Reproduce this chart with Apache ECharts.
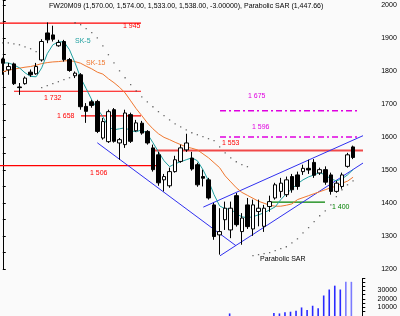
<!DOCTYPE html>
<html><head><meta charset="utf-8">
<script src="https://cdn.jsdelivr.net/npm/echarts/dist/echarts.min.js"></script>
<style>html,body{margin:0;padding:0;background:#fafafa}#c{width:400px;height:316px}</style>
</head><body><div id="c"></div>
<script>
// ---- data ----
const categories = Array.from({length: 65}, (_, i) => 'P' + (i + 1));
const opens  = [1837,1804,1822,1752,1762,1797,1792,1834,1916,1910,1877,1890,1835,1786,1789,1693,1707,1708,1597,1586,1683,1582,1577,1668,1619,1642,1617,1567,1546,1470,1452,1495,1526,1561,1536,1516,1480,1470,1394,1303,1349,1318,1422,1313,1394,1321,1374,1329,1389,1415,1435,1425,1480,1485,1495,1505,1523,1491,1501,1485,1435,1450,1511,1570];
const closes = [1824,1814,1762,1750,1779,1789,1814,1890,1895,1897,1887,1835,1802,1794,1692,1678,1696,1617,1647,1677,1587,1592,1673,1587,1643,1612,1582,1501,1461,1480,1495,1531,1567,1582,1503,1455,1475,1415,1298,1313,1384,1384,1334,1354,1328,1394,1384,1384,1404,1455,1460,1470,1440,1450,1505,1500,1484,1501,1463,1435,1460,1485,1546,1538];
const lows   = [1789,1789,1758,1728,1759,1783,1789,1829,1885,1890,1874,1829,1798,1779,1683,1643,1689,1612,1592,1582,1583,1531,1567,1582,1616,1607,1577,1495,1452,1435,1446,1492,1522,1555,1498,1449,1450,1410,1288,1243,1318,1293,1328,1273,1321,1300,1329,1312,1373,1410,1416,1418,1431,1440,1485,1488,1476,1485,1455,1425,1431,1443,1507,1533];
const highs  = [1841,1825,1826,1764,1784,1805,1825,1897,1948,1938,1895,1895,1840,1799,1794,1703,1713,1713,1658,1683,1688,1597,1683,1674,1652,1649,1621,1577,1555,1488,1507,1543,1577,1610,1555,1522,1501,1476,1400,1384,1404,1404,1430,1369,1415,1410,1410,1394,1422,1461,1476,1480,1488,1495,1516,1531,1533,1507,1511,1492,1467,1492,1552,1574];
const sk5  = [1825,1825,1819,1810,1795,1784,1783,1810,1853,1880,1889,1889,1865,1825,1780,1747,1713,1686,1662,1631,1622,1625,1628,1619,1616,1622,1610,1583,1555,1528,1510,1519,1525,1531,1537,1528,1501,1467,1425,1391,1382,1382,1367,1358,1355,1358,1364,1370,1379,1388,1410,1428,1443,1458,1470,1479,1485,1492,1485,1473,1467,1473,1485,1501];
const sk15 = [1798,1803,1806,1809,1812,1814,1818,1823,1826,1828,1829,1831,1832,1829,1824,1815,1807,1797,1791,1777,1765,1751,1734,1710,1686,1665,1643,1625,1610,1599,1592,1584,1577,1570,1566,1561,1549,1537,1522,1507,1482,1464,1446,1432,1423,1414,1405,1399,1393,1390,1390,1393,1397,1410,1416,1422,1428,1434,1440,1446,1451,1460,1466,1478];
const sar  = [1886,1886,1883,1880,1874,1868,1859,1750,1756,1762,1768,1774,1780,1947,1941,1929,1917,1901,1877,1850,1825,1801,1780,1759,1740,1722,1707,1692,1677,1665,1652,1640,1631,1622,1613,1607,1601,1595,1589,1570,1552,1537,1525,1516,1510,1240,1243,1246,1249,1255,1261,1267,1279,1291,1309,1325,1343,1361,1376,1394,1419,1440,1455,1467];
const volumes = [0,0,0,0,0,0,0,0,0,0,0,0,0,0,0,0,0,0,0,0,0,0,0,0,0,0,0,0,0,0,0,0,0,0,0,0,0,0,0,0,0,3000,0,0,0,0,0,0,0,3500,3000,4500,5000,6000,10000,7000,12000,9000,24000,31000,35500,31000,40000,40000];
const priceTicks = [1200,1300,1400,1500,1600,1700,1800,1900,2000];
const volumeTicks = [10000,20000,30000];
// horizontal levels: value, start index, end index
const redLevels   = [[1946,-0.5,24.86],[1739,2.02,24.86],[1664,14.07,24.86],[1513,-0.5,27.74]];
const redLabels   = ['1 945','1 732','1 658','1 506'];
const level1553   = [1559,27.38,65.15];
const targetLevels = [[1680,39.07,64.25],[1600,39.07,64.25]];
const targetLabels = ['1 675','1 596'];
const greenLevel  = [1402.5,48.4,57.95];
const trendLines  = [[[17.0,1582.6],[41.95,1270]],[[39.07,1239.5],[65.15,1525]],[[36.07,1387.3],[65.15,1606.8]]];
const titleText = 'FW20M09 (1,570.00, 1,574.00, 1,533.00, 1,538.00, -3.00000), Parabolic SAR (1,447.66)';

// ---- chart ----
const FONT = 'Liberation Sans, Arial, sans-serif';
const chart = echarts.init(document.getElementById('c'), null, {renderer: 'canvas'});
const candleData = opens.map((o, i) => [o, closes[i], lows[i], highs[i]]);

function hLine(v, a, b, color, width, type) {
  return {type: 'line', xAxisIndex: 1, yAxisIndex: 0, data: [[a, v], [b, v]], symbol: 'none', silent: true,
    clip: false, lineStyle: {color: color, width: width, type: type || 'solid'}, z: 3};
}

const series = [];
redLevels.forEach(l => series.push(hLine(l[0], l[1], l[2], '#ff0000', 1.2)));
series.push(hLine(level1553[0], level1553[1], level1553[2], '#f04848', 2));
targetLevels.forEach(l => series.push(hLine(l[0], l[1], l[2], '#e000e0', 1.4, [6, 3, 2, 3])));
series.push(hLine(greenLevel[0], greenLevel[1], greenLevel[2], '#008000', 1.2));
trendLines.forEach(t => series.push({type: 'line', xAxisIndex: 1, yAxisIndex: 0, data: t, symbol: 'none', clip: false,
  lineStyle: {color: '#3030f0', width: 1}, z: 4}));
series.push({type: 'line', xAxisIndex: 0, yAxisIndex: 0, data: sk15, symbol: 'none', lineStyle: {color: '#f07830', width: 1}, z: 5});
series.push({type: 'line', xAxisIndex: 0, yAxisIndex: 0, data: sk5, symbol: 'none', lineStyle: {color: '#20a0a0', width: 1}, z: 6});
series.push({type: 'candlestick', xAxisIndex: 0, yAxisIndex: 0, data: candleData, barWidth: 4,
  itemStyle: {color: '#ffffff', color0: '#000000', borderColor: '#000000', borderColor0: '#000000', borderWidth: 1}, z: 7});
series.push({type: 'scatter', xAxisIndex: 0, yAxisIndex: 0, data: sar, symbol: 'rect', symbolSize: 1.3,
  itemStyle: {color: '#444444'}, z: 8});
series.push({type: 'bar', xAxisIndex: 2, yAxisIndex: 1, data: volumes, barWidth: 1.6,
  itemStyle: {color: p => p.dataIndex >= 62 ? '#7a7aff' : '#2a2aff'}});

const texts = [];
const redPos = [[123,22.5],[44,94.5],[57,112.5],[90,169.5]];
redLabels.forEach((t, i) => texts.push({type: 'text', left: redPos[i][0], top: redPos[i][1], style: {text: t, fill: '#ff0000', font: '7px ' + FONT}}));
texts.push({type: 'text', left: 222, top: 139.5, style: {text: '1 553', fill: '#ff0000', font: '7px ' + FONT}});
const tgtPos = [[248,93],[252,124]];
targetLabels.forEach((t, i) => texts.push({type: 'text', left: tgtPos[i][0], top: tgtPos[i][1], style: {text: t, fill: '#e000e0', font: '7px ' + FONT}}));
texts.push({type: 'text', left: 332, top: 203.5, style: {text: '1 400', fill: '#008000', font: '7px ' + FONT}});
texts.push({type: 'text', left: 75, top: 37.5, style: {text: 'SK-5', fill: '#20a0a0', font: '7px ' + FONT}});
texts.push({type: 'text', left: 86, top: 59.5, style: {text: 'SK-15', fill: '#f07830', font: '7px ' + FONT}});
texts.push({type: 'text', left: 260, top: 255.5, style: {text: 'Parabolic SAR', fill: '#000000', font: '7px ' + FONT}});
texts.push({type: 'text', left: 49, top: 3, style: {text: titleText, fill: '#000000', font: '7px ' + FONT}});

chart.setOption({
  backgroundColor: '#fafafa',
  animation: false,
  textStyle: {fontFamily: FONT},
  grid: [
    {left: 0, right: 38.6, top: 0, height: 268.8},
    {left: 0, right: 38.6, top: 278.4, height: 39.6}
  ],
  xAxis: [
    {type: 'category', data: categories, gridIndex: 0, show: false},
    {type: 'value', min: -0.5, max: 64.5, gridIndex: 0, show: false},
    {type: 'category', data: categories, gridIndex: 1, show: false}
  ],
  yAxis: [
    {type: 'value', gridIndex: 0, position: 'right', offset: 2.6, min: 1200, max: 2016, interval: 50,
      splitLine: {show: false}, axisLine: {show: true, lineStyle: {color: '#000', width: 1}},
      axisTick: {show: true, length: 3, lineStyle: {color: '#000'}},
      axisLabel: {formatter: v => priceTicks.indexOf(v) >= 0 ? String(v) : '', color: '#000', fontSize: 7, align: 'center', margin: 25, fontFamily: FONT}},
    {type: 'value', gridIndex: 1, position: 'right', offset: 2.6, min: 0, max: 44000, interval: 5000,
      splitLine: {show: false}, axisLine: {show: true, lineStyle: {color: '#000', width: 1}},
      axisTick: {show: true, length: 3, lineStyle: {color: '#000'}},
      axisLabel: {formatter: v => volumeTicks.indexOf(v) >= 0 ? String(v) : '', color: '#000', fontSize: 7, align: 'center', margin: 25, fontFamily: FONT}}
  ],
  graphic: texts,
  series: series
});
</script></body></html>
